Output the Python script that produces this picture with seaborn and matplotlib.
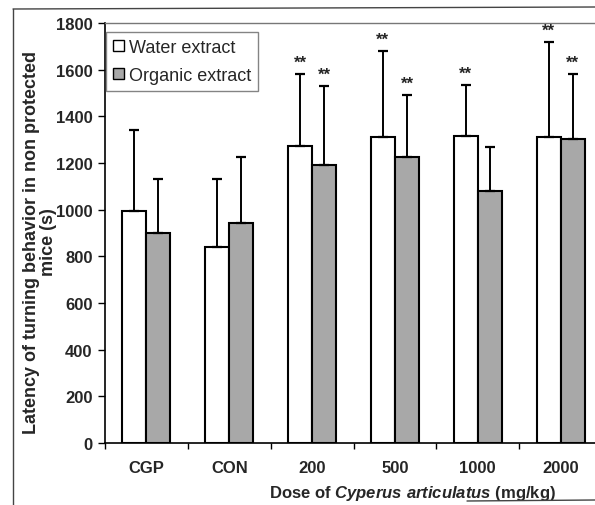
import matplotlib
matplotlib.use("Agg")
import matplotlib.pyplot as plt
import seaborn as sns
import pandas as pd
import numpy as np
from matplotlib.lines import Line2D

# ---- data ----
doses = ["CGP", "CON", "200", "500", "1000", "2000"]
series = ["Water extract", "Organic extract"]
water_mean = [995, 840, 1275, 1310, 1315, 1310]
water_err = [345, 290, 305, 370, 220, 410]
organic_mean = [900, 945, 1190, 1225, 1080, 1305]
organic_err = [230, 280, 340, 265, 190, 275]
water_sig = ["", "", "**", "**", "**", "**"]
organic_sig = ["", "", "**", "**", "", "**"]

sns.set_theme(style="white")
plt.rcParams["font.family"] = ["Liberation Sans", "DejaVu Sans"]
plt.rcParams["mathtext.fontset"] = "custom"
plt.rcParams["mathtext.rm"] = "Liberation Sans:bold"
plt.rcParams["mathtext.it"] = "Liberation Sans:bold:italic"
plt.rcParams["mathtext.bf"] = "Liberation Sans:bold"

df = pd.DataFrame({
    "dose": doses * 2,
    "extract": [series[0]] * len(doses) + [series[1]] * len(doses),
    "value": water_mean + organic_mean,
})

fig = plt.figure(figsize=(5.95, 5.06), dpi=100)
ax = fig.add_axes([105 / 595, 1 - 444 / 506, 497 / 595, 420 / 506])

palette = {series[0]: "white", series[1]: "#a8a8a8"}
sns.barplot(data=df, x="dose", y="value", hue="extract", order=doses,
            hue_order=series, palette=palette, width=0.58, gap=0,
            edgecolor="black", linewidth=1.5, errorbar=None, ax=ax,
            saturation=1)

# error bars and significance marks
containers = list(ax.containers)
errs = [water_err, organic_err]
means = [water_mean, organic_mean]
sigs = [water_sig, organic_sig]
for ci, cont in enumerate(containers):
    xs = [p.get_x() + p.get_width() / 2 for p in cont.patches]
    ax.errorbar(xs, means[ci], yerr=[np.zeros(len(xs)), errs[ci]], fmt="none",
                ecolor="black", elinewidth=1.4, capsize=3.3, capthick=1.6,
                zorder=3)
    for x, m, e, s in zip(xs, means[ci], errs[ci], sigs[ci]):
        if s:
            ax.annotate(s, (x, m + e), xytext=(0, 3), textcoords="offset points",
                        ha="center", va="bottom", fontsize=12, fontweight="bold",
                        annotation_clip=False)

ax.set_ylim(0, 1800)
ax.set_xlim(-0.5, 5.5)
ax.set_yticks(np.arange(0, 1801, 200))
ax.set_xticks(np.arange(-0.5, 5.6, 1.0), minor=True)
ax.tick_params(axis="x", which="major", length=0, pad=12, labelsize=12)
ax.tick_params(axis="x", which="minor", length=4, width=1, color="black",
               direction="out", bottom=True)
ax.tick_params(axis="y", length=5, width=1, color="black", direction="out",
               left=True, labelsize=12, pad=4)
for lbl in ax.get_xticklabels() + ax.get_yticklabels():
    lbl.set_fontweight("bold")

for side in ["left", "bottom"]:
    ax.spines[side].set_color("black")
    ax.spines[side].set_linewidth(1.2)
ax.spines["right"].set_visible(False)
ax.spines["top"].set_color("#777777")
ax.spines["top"].set_linestyle((0, (1, 1)))
ax.spines["top"].set_linewidth(1.0)

ax.set_ylabel("Latency of turning behavior in non protected\nmice (s)",
              fontsize=13, fontweight="bold", linespacing=0.95)
ax.yaxis.set_label_coords(-0.097, 0.48)
ax.set_xlabel(r"Dose of $\mathit{Cyperus\ articulatus}$ (mg/kg)",
              fontsize=12, fontweight="bold")
ax.xaxis.set_label_coords(0.618, -0.095)

leg = ax.legend(loc="upper left", bbox_to_anchor=(0.002, 0.979),
                borderaxespad=0, frameon=True, fancybox=False,
                fontsize=13, handlelength=0.6, handleheight=0.6,
                handletextpad=0.25, labelspacing=0.6, borderpad=0.4)
leg.get_frame().set_edgecolor("#666666")
leg.get_frame().set_linewidth(1.0)
for h in leg.legend_handles:
    h.set_edgecolor("black")
    h.set_linewidth(1.0)

# outer frame lines
fig.add_artist(Line2D([13 / 595, 13 / 595], [0, 1 - 10 / 506],
                      transform=fig.transFigure, color="#444444", lw=1))
fig.add_artist(Line2D([13 / 595, 1], [1 - 10 / 506, 1 - 8 / 506],
                      transform=fig.transFigure, color="#444444", lw=1))
fig.add_artist(Line2D([467 / 595, 1], [1 - 502 / 506, 1 - 501 / 506],
                      transform=fig.transFigure, color="#444444", lw=1))

fig.savefig("out.png", dpi=100)
